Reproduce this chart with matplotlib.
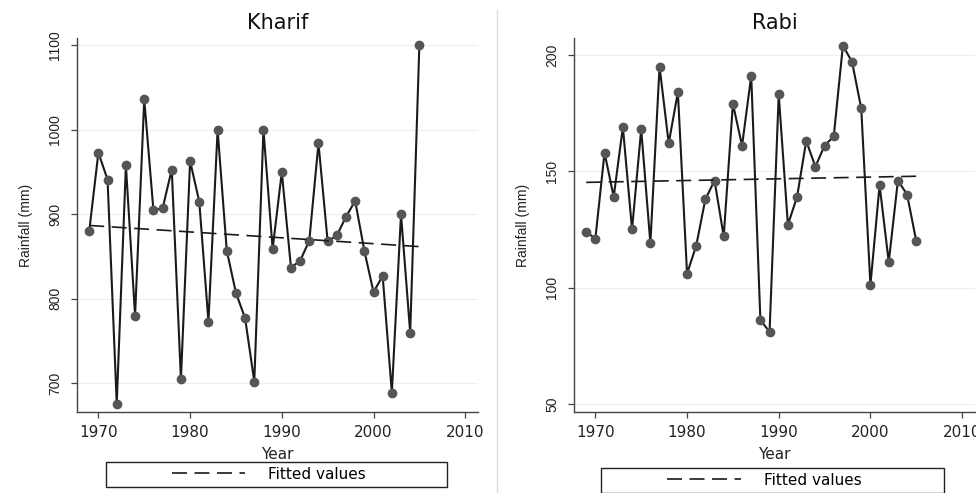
import numpy as np
import matplotlib
matplotlib.use("Agg")
import matplotlib.pyplot as plt
from matplotlib.patches import Rectangle
from matplotlib.lines import Line2D

# seasonal rainfall
years = list(range(1969, 2006))
kharif = [880, 973, 941, 676, 958, 780, 1036, 905, 907, 953,
          705, 963, 915, 773, 1000, 857, 807, 777, 702, 1000,
          859, 950, 837, 845, 869, 984, 868, 875, 897, 916,
          857, 808, 827, 689, 900, 760, 1100]
rabi = [124, 121, 158, 139, 169, 125, 168, 119, 195, 162,
        184, 106, 118, 138, 146, 122, 179, 161, 191, 86,
        81, 183, 127, 139, 163, 152, 161, 165, 204, 197,
        177, 101, 144, 111, 146, 140, 120]

panels = [
    ("Kharif", kharif, [700, 800, 900, 1000, 1100], (665.7, 1109)),
    ("Rabi", rabi, [50, 100, 150, 200], (46.4, 207.4)),
]
xticks = [1970, 1980, 1990, 2000, 2010]

fig = plt.figure(figsize=(9.76, 4.93), dpi=100)
positions = [[0.0792, 0.1637, 0.4106, 0.7598], [0.5884, 0.1637, 0.4105, 0.7598]]
legend_boxes = [(0.0709, -0.1986, 0.8525, 0.0667), (0.0666, -0.2150, 0.8560, 0.0667)]

for (title, vals, yticks, ylim), pos, box in zip(panels, positions, legend_boxes):
    ax = fig.add_axes(pos)
    x = np.array(years)
    y = np.array(vals, dtype=float)
    ax.plot(x, y, color="#1a1a1a", lw=1.5, marker="o", ms=6,
            mfc="#555555", mec="#555555", zorder=3)
    # linear fit, drawn as "Fitted values"
    slope, icpt = np.polyfit(x, y, 1)
    fit, = ax.plot(x, slope * x + icpt, color="#1a1a1a", lw=1.2,
                   dashes=(9, 4.5), zorder=4, label="Fitted values")

    ax.set_xlim(1967.7, 2011.4)
    ax.set_ylim(*ylim)
    ax.set_xticks(xticks)
    ax.set_yticks(yticks)
    for t in yticks:
        ax.axhline(t, color="#eeeeee", lw=0.8, zorder=0)
    for s in ["top", "right"]:
        ax.spines[s].set_visible(False)
    for s in ["left", "bottom"]:
        ax.spines[s].set_color("#444444")
        ax.spines[s].set_linewidth(1.0)
    ax.tick_params(axis="x", length=4, width=0.9, color="#444444", pad=5,
                   labelsize=11, labelcolor="#222222")
    ax.tick_params(axis="y", length=4, width=0.9, color="#444444", pad=7,
                   labelsize=10, labelcolor="#222222", labelrotation=90)
    for lab in ax.get_yticklabels():
        lab.set_family("Liberation Sans")
        lab.set_va("center")
    ax.set_title(title, fontsize=15, color="#111111", pad=6)
    ax.set_xlabel("Year", fontsize=11, color="#222222", labelpad=5)
    ax.set_ylabel("Rainfall (mm)", fontsize=10, family="Liberation Sans",
                  color="#222222", labelpad=11)

    # legend frame below the axes
    bx, by, bw, bh = box
    ax.add_patch(Rectangle((bx, by), bw, bh, transform=ax.transAxes,
                           fill=False, ec="#222222", lw=1.0, clip_on=False))
    ax.legend(handles=[fit], loc="center", frameon=False,
              bbox_to_anchor=(bx + bw / 2 - 0.02, by + bh / 2),
              bbox_transform=ax.transAxes, fontsize=11,
              handlelength=4.8, handletextpad=1.5, borderpad=0)

fig.add_artist(Line2D([0.509, 0.509], [0.0, 0.98], color="#dddddd", lw=1.0))

fig.savefig("out.png", dpi=100)
